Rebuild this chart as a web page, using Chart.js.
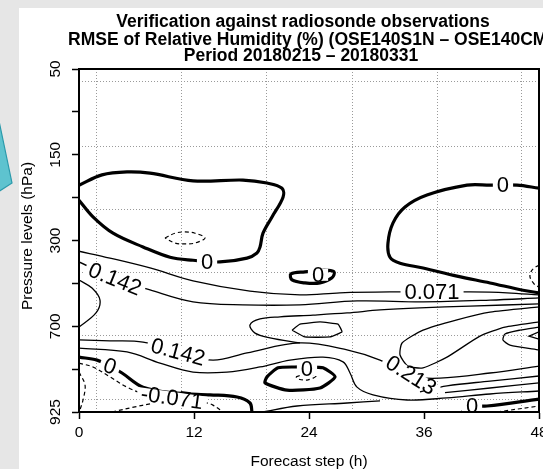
<!DOCTYPE html>
<html>
<head>
<meta charset="utf-8">
<script src="https://cdn.jsdelivr.net/npm/chart.js@4.4.0/dist/chart.umd.min.js"></script>
<style>
  html, body { margin: 0; padding: 0; background: #e6e6e6; overflow: hidden; }
  #panel { position: absolute; left: 19px; top: 8px; width: 524px; height: 461px; background: #fff; }
  #wrap { position: absolute; left: 0; top: 0; width: 543px; height: 469px; }
  #callout { position: absolute; left: 0; top: 0; }
</style>
</head>
<body>
<div id="panel"></div>
<div id="wrap"><canvas id="rhChart" width="543" height="469"></canvas></div>
<svg id="callout" width="20" height="200"><polygon points="-2,116 12,183 -2,192" fill="#5ec3cf" stroke="#2b9aab" stroke-width="1.2"/></svg>
<script>
// pressure levels (hPa) on the y axis, forecast steps (h) on the x axis
const levels = [50, 100, 150, 200, 300, 500, 700, 850, 925];
const stepTicks = [0, 12, 24, 36, 48];
const gridHours = [1.8, 10.7, 19.6, 28.5, 37.4, 46.2];
const gridLevels = [0.3, 1.8, 3.27, 4.74, 6.22, 7.7];

const titleLines = [
  "Verification against radiosonde observations",
  "RMSE of Relative Humidity (%) (OSE140S1N \u2013 OSE140CMN)",
  "Period 20180215 \u2013 20180331"
];

// contour lines, [step (h), level index]
const zeroTopLeft = [[0,2.71],[2.40,2.47],[5.01,2.40],[7.41,2.43],[11.90,2.61],[17.11,2.59],[19.62,2.66],[21.18,2.78],[21.29,2.99],[20.14,3.45],[19.20,3.83],[18.89,4.15],[18.57,4.29],[17.53,4.41],[14.71,4.50],[11.90,4.46],[9.50,4.39],[6.68,4.15],[3.55,3.83],[1.46,3.45],[0,3.06]];
const negTopLeft = [[8.97,3.94],[10.02,3.83],[11.06,3.80],[12.10,3.83],[13.15,3.94],[12.10,4.06],[11.06,4.08],[10.02,4.06],[8.97,3.94]];
const zeroTopRight = [[48,2.78],[45.70,2.71],[42.89,2.71],[40.49,2.71],[36.31,2.94],[34.02,3.22],[32.77,3.59],[32.24,4.06],[32.45,4.39],[33.50,4.53],[35.90,4.64],[39.44,4.83],[42.89,4.99],[46.33,5.16],[48,5.22]];
const negRightEdge = [[48,4.57],[47.27,4.69],[47.06,4.85],[47.48,5.01],[48,5.09]];
const zeroSmallMid = [[25.67,4.69],[23.58,4.73],[22.12,4.78],[22.23,4.92],[23.58,4.99],[25.15,4.99],[26.40,4.87],[26.61,4.73],[25.67,4.69]];
const line071 = [[0,4.25],[3.23,4.41],[7.41,4.64],[11.90,4.94],[17.84,5.18],[23.06,5.27],[27.23,5.22],[32.45,5.20],[40.80,5.20],[44.66,5.22],[48,5.27]];
const line142Upper = [[0,4.50],[3.55,4.87],[7.41,5.15],[11.90,5.43],[17.11,5.50],[23.06,5.50],[29.01,5.41],[35.90,5.43],[42.89,5.39],[48,5.34]];
const posLeftBulge = [[0,4.92],[1.36,5.11],[2.19,5.39],[1.77,5.69],[0,6.02]];
const tip213 = [[48,5.48],[40.80,5.53],[35.58,5.57],[31.41,5.62],[27.97,5.69],[24.42,5.74],[20.97,5.78],[18.89,5.83],[17.84,5.97],[18.37,6.16],[19.93,6.27],[23.06,6.39]];
const hexMid = [[22.23,6.09],[23.06,5.95],[25.15,5.90],[27.03,5.95],[27.44,6.13],[26.19,6.25],[23.58,6.25],[22.23,6.09]];
const line142Lower = [[0,6.32],[3.23,6.34],[6.68,6.37],[10.33,6.60],[13.98,6.79],[17.53,6.62],[23.06,6.39],[27.97,6.55],[31.41,6.79],[34.64,7.16],[37.67,7.21],[42.89,7.09],[48,6.93]];
const wedge213 = [[48,5.55],[42.89,5.67],[39.44,5.85],[35.90,6.09],[33.71,6.39],[33.50,6.67],[34.33,6.93],[35.90,6.97],[38.40,6.72],[41.84,6.23],[44.45,6.02],[48,5.90]];
const lensRight = [[48,6.02],[46.02,6.09],[44.45,6.18],[44.24,6.32],[44.97,6.44],[48,6.55]];
const lensRightInner = [[48,6.13],[46.96,6.23],[48,6.30]];
const fanRight1 = [[35.58,7.53],[38.40,7.39],[42.89,7.28],[48,7.16]];
const fanRight2 = [[38.19,7.55],[42.89,7.44],[48,7.32]];
const lineAroundLoop = [[0,6.51],[5.01,6.60],[8.45,6.86],[11.90,7.07],[15.44,7.07],[18.89,6.95],[22.02,6.79],[25.46,6.72],[27.55,6.83],[28.28,7.09],[29.01,7.42],[30.68,7.60],[34.23,7.72],[38.40,7.67],[42.89,7.58],[48,7.51]];
const zeroLowerLeft = [[0,6.72],[1.88,6.79],[3.23,6.93],[4.49,7.09],[6.68,7.42],[10.23,7.56],[13.67,7.60],[16.49,7.65],[17.84,7.79],[18.05,8]];
const neg071Lower = [[0,6.86],[1.46,6.95],[3.23,7.18],[5.01,7.42],[7.10,7.60],[9.70,7.67],[13.36,7.79],[13.98,7.84],[15.03,8]];
const neg071Bottom = [[3.44,8],[5.84,7.88],[7.41,7.81]];
const negCorner = [[0,7.07],[0.63,7.37],[0.42,7.72],[0.10,7.95]];
const zeroLoopMid = [[23.79,6.95],[22.54,6.95],[20.77,6.97],[19.62,7.18],[19.41,7.32],[21.71,7.49],[25.15,7.44],[26.72,7.18],[25.46,6.97],[23.79,6.95]];
const negLoopMid = [[22.64,7.18],[23.69,7.11],[24.73,7.16],[23.90,7.25],[22.85,7.23],[22.64,7.18]];
const lineBottom = [[19.10,8],[22.75,7.86],[27.97,7.79],[31.41,7.74]];
const zeroBottomRight = [[39.97,8],[41.01,7.88],[42.58,7.86],[48,7.70]];
const negBottomRight = [[43.62,8],[48,7.86]];

const contourLabels = [
  { text: "0", h: 13.36, lev: 4.50, rot: 0 },
  { text: "0", h: 44.24, lev: 2.71, rot: 0 },
  { text: "0", h: 24.94, lev: 4.80, rot: 0 },
  { text: "0.071", h: 36.84, lev: 5.20, rot: 0 },
  { text: "0.142", h: 3.76, lev: 4.90, rot: 22 },
  { text: "0.142", h: 10.33, lev: 6.60, rot: 15 },
  { text: "0.213", h: 34.64, lev: 7.14, rot: 32 },
  { text: "0", h: 3.23, lev: 6.93, rot: 20 },
  { text: "-0.071", h: 9.70, lev: 7.67, rot: 8 },
  { text: "0", h: 23.79, lev: 7.00, rot: 0 },
  { text: "0", h: 41.01, lev: 7.86, rot: 0 }
];

const FONT = '"Liberation Sans", Arial, sans-serif';
const thick = { borderWidth: 3.2 };
const thin = { borderWidth: 1.3 };
const neg = { borderWidth: 1.2, borderDash: [4, 3] };

function contour(data, style, tension) {
  return Object.assign({
    type: "line",
    data: data,
    borderColor: "#000",
    pointRadius: 0,
    fill: false,
    tension: tension === undefined ? 0.35 : tension
  }, style);
}

const datasets = [
  contour(zeroTopLeft, thick),
  contour(negTopLeft, neg),
  contour(zeroTopRight, thick),
  contour(negRightEdge, neg),
  contour(zeroSmallMid, thick),
  contour(line071, thin),
  contour(line142Upper, thin),
  contour(posLeftBulge, thin),
  contour(tip213, thin),
  contour(hexMid, thin, 0.1),
  contour(line142Lower, thin),
  contour(wedge213, thin, 0.2),
  contour(lensRight, thin, 0.2),
  contour(lensRightInner, thin, 0),
  contour(fanRight1, thin),
  contour(fanRight2, thin),
  contour(lineAroundLoop, thin),
  contour(zeroLowerLeft, thick),
  contour(neg071Lower, neg),
  contour(neg071Bottom, neg),
  contour(negCorner, neg),
  contour(zeroLoopMid, thick, 0.2),
  contour(negLoopMid, neg),
  contour(lineBottom, thin),
  contour(zeroBottomRight, thick),
  contour(negBottomRight, neg)
];

// frame on top/right + inline contour labels
const contourLabelPlugin = {
  id: "contourLabels",
  afterDatasetsDraw(chart) {
    const { ctx, chartArea, scales: { x, y } } = chart;
    ctx.save();
    ctx.strokeStyle = "#000";
    ctx.lineWidth = 2;
    ctx.beginPath();
    ctx.moveTo(chartArea.left, chartArea.top);
    ctx.lineTo(chartArea.right, chartArea.top);
    ctx.lineTo(chartArea.right, chartArea.bottom);
    ctx.stroke();

    ctx.beginPath();
    ctx.rect(chartArea.left + 1, chartArea.top + 1, chartArea.width - 2, chartArea.height - 2);
    ctx.clip();
    ctx.font = "22px " + FONT;
    ctx.textAlign = "center";
    ctx.textBaseline = "middle";
    contourLabels.forEach(function (l) {
      const px = x.getPixelForValue(l.h);
      const py = y.getPixelForValue(l.lev);
      ctx.save();
      ctx.translate(px, py);
      ctx.rotate(l.rot * Math.PI / 180);
      const w = ctx.measureText(l.text).width;
      ctx.fillStyle = "#fff";
      ctx.fillRect(-w / 2 - 4, -6, w + 8, 12);
      ctx.fillStyle = "#000";
      ctx.fillText(l.text, 0, 1);
      ctx.restore();
    });
    ctx.restore();
  }
};

// titles, axis titles, rotated pressure labels
const textPlugin = {
  id: "texts",
  afterDraw(chart) {
    const { ctx, chartArea, scales: { y } } = chart;
    ctx.save();
    ctx.fillStyle = "#000";
    ctx.textBaseline = "alphabetic";
    ctx.font = "bold 17.5px " + FONT;
    ctx.textAlign = "center";
    ctx.fillText(titleLines[0], 303, 27);
    ctx.textAlign = "left";
    ctx.fillText(titleLines[1], 68, 45);
    ctx.textAlign = "center";
    ctx.fillText(titleLines[2], 301, 61);

    ctx.font = "15.5px " + FONT;
    ctx.textBaseline = "middle";
    levels.forEach(function (p, i) {
      if (i % 2 !== 0) return;
      ctx.save();
      ctx.translate(56, y.getPixelForValue(i));
      ctx.rotate(-Math.PI / 2);
      ctx.fillText(String(p), 0, 0);
      ctx.restore();
    });

    ctx.save();
    ctx.translate(28, 236);
    ctx.rotate(-Math.PI / 2);
    ctx.fillText("Pressure levels (hPa)", 0, 0);
    ctx.restore();

    ctx.fillText("Forecast step (h)", (chartArea.left + chartArea.right) / 2, 462);
    ctx.restore();
  }
};

new Chart(document.getElementById("rhChart").getContext("2d"), {
  type: "line",
  data: { datasets: datasets },
  options: {
    responsive: false,
    animation: false,
    events: [],
    layout: { padding: { top: 69, right: 4, bottom: 0, left: 0 } },
    plugins: { legend: { display: false }, tooltip: { enabled: false } },
    scales: {
      x: {
        type: "linear", position: "bottom", min: 0, max: 48,
        afterBuildTicks: function (s) { s.ticks = stepTicks.map(function (v) { return { value: v }; }); },
        ticks: { color: "#000", font: { family: FONT, size: 15.5 }, padding: 4, maxRotation: 0, autoSkip: false },
        grid: { drawOnChartArea: false, tickLength: 7, tickColor: "#000", tickWidth: 1.5 },
        border: { color: "#000", width: 2 },
        afterFit: function (s) { s.height = 57; s.paddingLeft = 0; s.paddingRight = 0; }
      },
      y: {
        type: "linear", position: "left", min: 0, max: 8, reverse: true,
        afterBuildTicks: function (s) { s.ticks = levels.map(function (p, i) { return { value: i }; }); },
        ticks: { display: false },
        grid: { drawOnChartArea: false, tickLength: 7, tickColor: "#000", tickWidth: 1.5 },
        border: { color: "#000", width: 2 },
        afterFit: function (s) { s.width = 79; s.paddingTop = 0; s.paddingBottom = 0; }
      },
      x2: {
        type: "linear", position: "top", min: 0, max: 48,
        afterBuildTicks: function (s) { s.ticks = gridHours.map(function (v) { return { value: v }; }); },
        ticks: { display: false },
        grid: { drawTicks: false, color: "#9a9a9a", lineWidth: 1 },
        border: { display: false, dash: [1, 2] },
        afterFit: function (s) { s.height = 0; s.paddingLeft = 0; s.paddingRight = 0; }
      },
      y2: {
        type: "linear", position: "right", min: 0, max: 8, reverse: true,
        afterBuildTicks: function (s) { s.ticks = gridLevels.map(function (v) { return { value: v }; }); },
        ticks: { display: false },
        grid: { drawTicks: false, color: "#9a9a9a", lineWidth: 1 },
        border: { display: false, dash: [1, 2] },
        afterFit: function (s) { s.width = 0; s.paddingTop = 0; s.paddingBottom = 0; }
      }
    }
  },
  plugins: [contourLabelPlugin, textPlugin]
});
</script>
</body>
</html>
